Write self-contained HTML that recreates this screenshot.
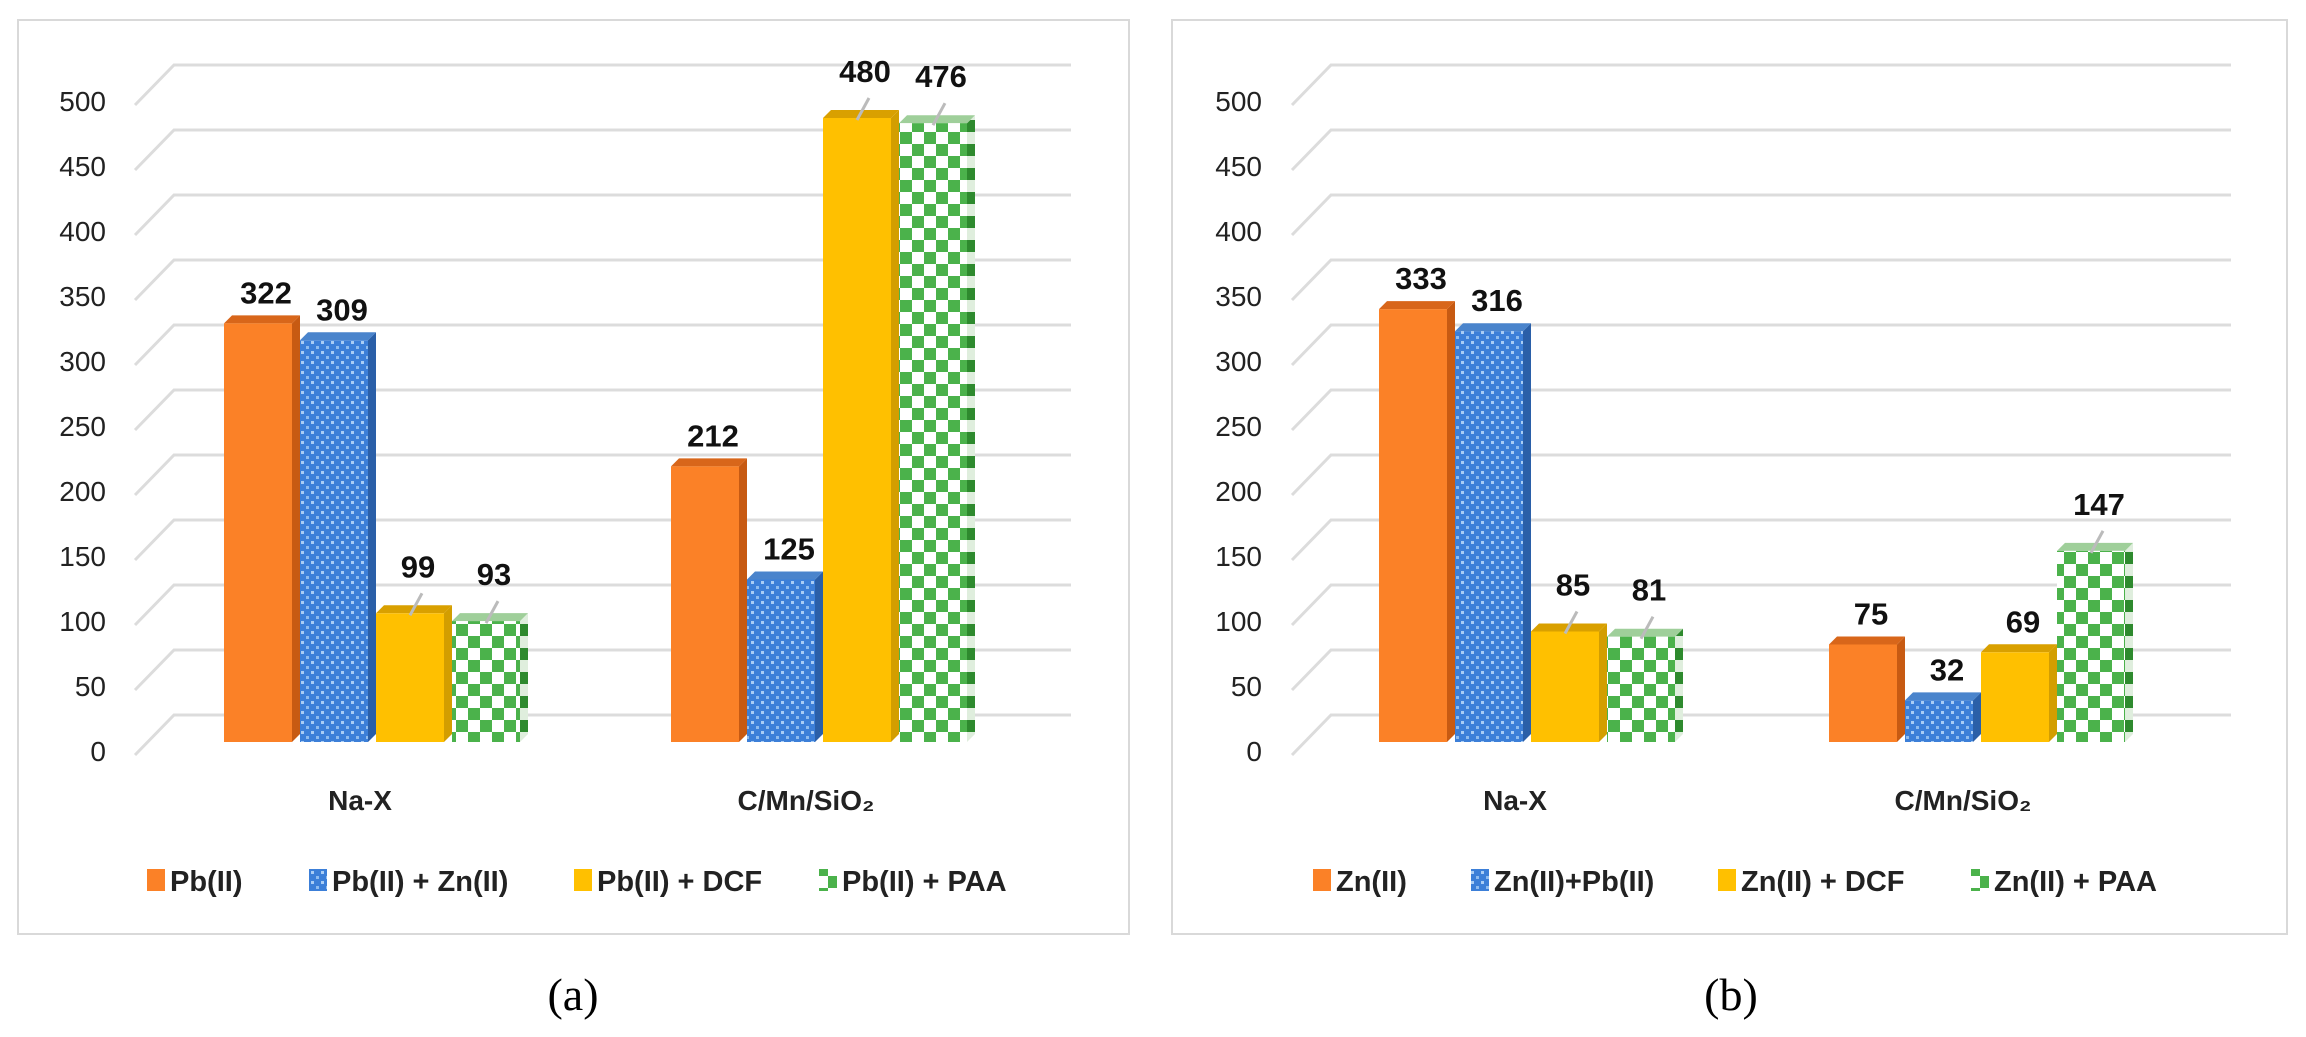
<!DOCTYPE html>
<html><head><meta charset="utf-8">
<style>
html,body{margin:0;padding:0;background:#fff;}
svg{display:block;font-family:"Liberation Sans",sans-serif;}
</style></head>
<body>
<svg id="fig" width="2306" height="1037" viewBox="0 0 2306 1037" xmlns="http://www.w3.org/2000/svg">
<defs>
<pattern id="pBlue" width="10" height="10" patternUnits="userSpaceOnUse">
<rect width="10" height="10" fill="#3c7fd8"/>
<rect x="1" y="1" width="3" height="3" fill="#a9cdf5"/>
<rect x="6" y="6" width="3" height="3" fill="#8fbcef"/>
</pattern>
<pattern id="pGreen" width="24" height="24" patternUnits="userSpaceOnUse">
<rect width="24" height="24" fill="#ffffff"/>
<rect x="0" y="0" width="12" height="12" fill="#4bb24b"/>
<rect x="12" y="12" width="12" height="12" fill="#4bb24b"/>
</pattern>
<pattern id="pGreenSide" width="8" height="24" patternUnits="userSpaceOnUse">
<rect width="8" height="24" fill="#dfeedd"/>
<rect x="0" y="0" width="8" height="12" fill="#2e8a2e"/>
</pattern>
</defs>
<g id="panelA"></g>
<g id="panelB"></g>
<text x="573" y="1010" font-family="Liberation Serif,serif" font-size="46" text-anchor="middle">(a)</text>
<text x="1731" y="1010" font-family="Liberation Serif,serif" font-size="46" text-anchor="middle">(b)</text>
</svg>
<script>
const categories = ["Na-X", "C/Mn/SiO\u2082"];
const yTicks = [0, 50, 100, 150, 200, 250, 300, 350, 400, 450, 500];
const seriesA1 = [322, 212];
const seriesA2 = [309, 125];
const seriesA3 = [99, 480];
const seriesA4 = [93, 476];
const seriesB1 = [333, 75];
const seriesB2 = [316, 32];
const seriesB3 = [85, 69];
const seriesB4 = [81, 147];
const legendA = ["Pb(II)", "Pb(II) + Zn(II)", "Pb(II) + DCF", "Pb(II) + PAA"];
const legendB = ["Zn(II)", "Zn(II)+Pb(II)", "Zn(II) +  DCF", "Zn(II) + PAA"];

const NS = "http://www.w3.org/2000/svg";
function mk(parent, tag, attrs, text){
  const e = document.createElementNS(NS, tag);
  for (const k in attrs) e.setAttribute(k, attrs[k]);
  if (text !== undefined) e.textContent = text;
  parent.appendChild(e);
  return e;
}
const BASE = 742, PXU = 1.30;
function yScale(v){ return BASE - v * PXU; }
const styles = [
  {front:"#fb8127", side:"#c75a12", top:"#d8661a", leg:"#fb8127"},
  {front:"url(#pBlue)", side:"#2a5fa8", top:"#4a84cc", leg:"url(#pBlue)"},
  {front:"#ffc000", side:"#d39e00", top:"#d9a000", leg:"#ffc000"},
  {front:"url(#pGreen)", side:"url(#pGreenSide)", top:"#9fcf9a", leg:"url(#pGreen)"}
];

function drawPanel(g, cfg){
  const b = mk(g, "rect", {x:cfg.px, y:20, width:cfg.pw, height:914, fill:"#fff", stroke:"#d9d9d9", "stroke-width":2});
  
  
  yTicks.forEach(t => {
    const fy = yScale(t) + 13;
    const by = fy - 40;
    const gl = mk(g, "path", {d:`M${cfg.gx0} ${fy} L${cfg.gx0+39} ${by} L${cfg.gx1} ${by}`, fill:"none", stroke:"#dcdcdc", "stroke-width":3});
    
    
    const tl = mk(g, "text", {x:cfg.lx, y:fy+6, "font-size":28, "text-anchor":"end", fill:"#222"}, String(t));
    
    
  });
  const W = 68, SIDE = 8, D = 8, STRIDE = 76;
  cfg.series.forEach((ser, si) => {
    ser.forEach((v, ci) => {
      const x = cfg.groupX[ci] + si * STRIDE;
      const yt = yScale(v);
      const st = styles[si];
      const side = mk(g, "polygon", {points:`${x+W},${yt} ${x+W+SIDE},${yt-D} ${x+W+SIDE},${BASE-D} ${x+W},${BASE}`, fill:st.side});
      
      
      const top = mk(g, "polygon", {points:`${x},${yt} ${x+SIDE},${yt-D} ${x+W+SIDE},${yt-D} ${x+W},${yt}`, fill:st.top});
      
      
      const fr = mk(g, "rect", {x:x, y:yt, width:W, height:BASE-yt, fill:st.front});
      
      
      const lead = cfg.leader[si][ci];
      let ly = yt - 20;
      if (lead) {
        ly = yt - 36;
        const ln = mk(g, "line", {x1:x+W/2, y1:yt+2, x2:x+W/2+12, y2:yt-20, stroke:"#bbbbbb", "stroke-width":3});
        
        
      }
      const lbl = mk(g, "text", {x:x+W/2+8, y:ly, "font-size":31, "font-weight":"bold", "text-anchor":"middle", fill:"#111"}, String(v));
      
      
    });
  });
  categories.forEach((c, ci) => {
    const t = mk(g, "text", {x:cfg.catX[ci], y:810, "font-size":28, "font-weight":"bold", "text-anchor":"middle", fill:"#222"}, c);
    
    
  });
  cfg.legend.forEach((name, i) => {
    const sw = mk(g, "rect", {x:cfg.legX[i], y:869, width:18, height:22, fill:styles[i].leg});
    
    
    const t = mk(g, "text", {x:cfg.legX[i]+23, y:891, "font-size":29, "font-weight":"bold", fill:"#222"}, name);
    
    
  });
}

drawPanel(document.getElementById("panelA"), {
  id:"a", px:18, pw:1111, gx0:135, gx1:1071, lx:106,
  groupX:[224, 671], catX:[360, 806], legX:[147, 309, 574, 819],
  series:[seriesA1, seriesA2, seriesA3, seriesA4], legend:legendA,
  leader:[[false,false],[false,false],[true,true],[true,true]]
});
drawPanel(document.getElementById("panelB"), {
  id:"b", px:1172, pw:1115, gx0:1292, gx1:2231, lx:1262,
  groupX:[1379, 1829], catX:[1515, 1963], legX:[1313, 1471, 1718, 1971],
  series:[seriesB1, seriesB2, seriesB3, seriesB4], legend:legendB,
  leader:[[false,false],[false,false],[true,false],[true,true]]
});
</script>
</body></html>
